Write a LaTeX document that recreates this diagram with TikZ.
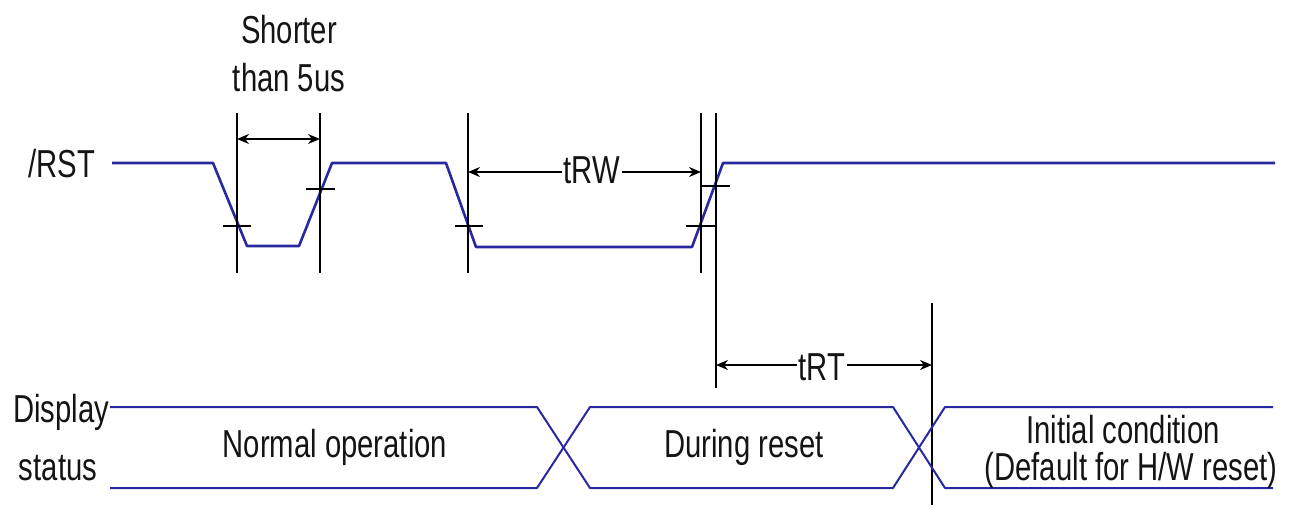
\documentclass[tikz,border=0pt]{standalone}
\usepackage{fontspec}
\setmainfont{Liberation Sans}[FakeStretch=0.75]
\usetikzlibrary{arrows.meta}
\definecolor{sig}{RGB}{40,40,160}
\definecolor{txt}{RGB}{20,20,20}
\begin{document}
\begin{tikzpicture}[x=1pt,y=-1pt,
  sigline/.style={draw=sig, line width=2.6pt, line join=round},
  busline/.style={draw=sig, line width=2pt, line join=round},
  refline/.style={draw=black, line width=1.4pt},
  dimarrow/.style={draw=black, line width=1.4pt, {Stealth[length=12pt,width=10pt]}-{Stealth[length=12pt,width=10pt]}},
  lbl/.style={font=\fontsize{39}{47}\selectfont, text=txt, inner sep=0pt, anchor=base},
  dimlbl/.style={lbl, fill=white, inner xsep=2pt, inner ysep=2pt}]
\useasboundingbox (0,0) rectangle (1298,507);
% /RST signal
\coordinate (r0) at (112,163);
\coordinate (r1) at (213,163);
\coordinate (r2) at (247,246);
\coordinate (r3) at (299,246);
\coordinate (r4) at (332,163);
\coordinate (r5) at (446,163);
\coordinate (r6) at (476,247);
\coordinate (r7) at (692,247);
\coordinate (r8) at (723,163);
\coordinate (r9) at (1275,163);
\draw[sigline] (r0) -- (r1) -- (r2) -- (r3) -- (r4) -- (r5) -- (r6) -- (r7) -- (r8) -- (r9);
% reference lines
\coordinate (v1a) at (237,113); \coordinate (v1b) at (237,273);
\coordinate (v2a) at (320,113); \coordinate (v2b) at (320,273);
\coordinate (v3a) at (468,113); \coordinate (v3b) at (468,273);
\coordinate (v4a) at (701,113); \coordinate (v4b) at (701,273);
\coordinate (v5a) at (716,113); \coordinate (v5b) at (716,388);
\coordinate (v6a) at (932,303); \coordinate (v6b) at (932,505);
\foreach \v in {1,...,6} { \draw[refline] (v\v a) -- (v\v b); }
% ticks
\coordinate (t1a) at (223,226); \coordinate (t1b) at (251,226);
\coordinate (t2a) at (306,189); \coordinate (t2b) at (335,189);
\coordinate (t3a) at (455,226); \coordinate (t3b) at (483,226);
\coordinate (t4a) at (686,226); \coordinate (t4b) at (716,226);
\coordinate (t5a) at (700,186); \coordinate (t5b) at (730,186);
\foreach \t in {1,...,5} { \draw[refline] (t\t a) -- (t\t b); }
% dimension arrows
\coordinate (a1) at (237,139); \coordinate (a2) at (320,139);
\coordinate (b1) at (468,172); \coordinate (b2) at (701,172);
\coordinate (c1) at (716,365); \coordinate (c2) at (932,365);
\draw[dimarrow] (a1) -- (a2);
\draw[dimarrow] (b1) -- (b2);
\draw[dimarrow] (c1) -- (c2);
\node[dimlbl] (trw) at (592,183) {tRW};
\node[dimlbl] (trt) at (822,380) {tRT};
% display status bus
\coordinate (p0) at (110,407); \coordinate (p1) at (537,407); \coordinate (p2) at (590,488);
\coordinate (p3) at (893,488); \coordinate (p4) at (945,407); \coordinate (p5) at (1273,407);
\coordinate (q0) at (110,488); \coordinate (q1) at (537,488); \coordinate (q2) at (590,407);
\coordinate (q3) at (893,407); \coordinate (q4) at (945,488); \coordinate (q5) at (1273,488);
\draw[busline] (p0) -- (p1) -- (p2) -- (p3) -- (p4) -- (p5);
\draw[busline] (q0) -- (q1) -- (q2) -- (q3) -- (q4) -- (q5);
% labels
\node[lbl] (rst) at (62,177) {/RST};
\node[lbl] (disp) at (61,422) {Display};
\node[lbl] (stat) at (58,480) {status};
\node[lbl] (sh1) at (289,43) {Shorter};
\node[lbl] (sh2) at (289,91) {than 5us};
\node[lbl] (norm) at (335,457) {Normal operation};
\node[lbl] (dur) at (744,457) {During reset};
\node[lbl] (ini1) at (1123,443) {Initial condition};
\node[lbl] (ini2) at (1131,480) {(Default for H/W reset)};
\end{tikzpicture}
\end{document}
